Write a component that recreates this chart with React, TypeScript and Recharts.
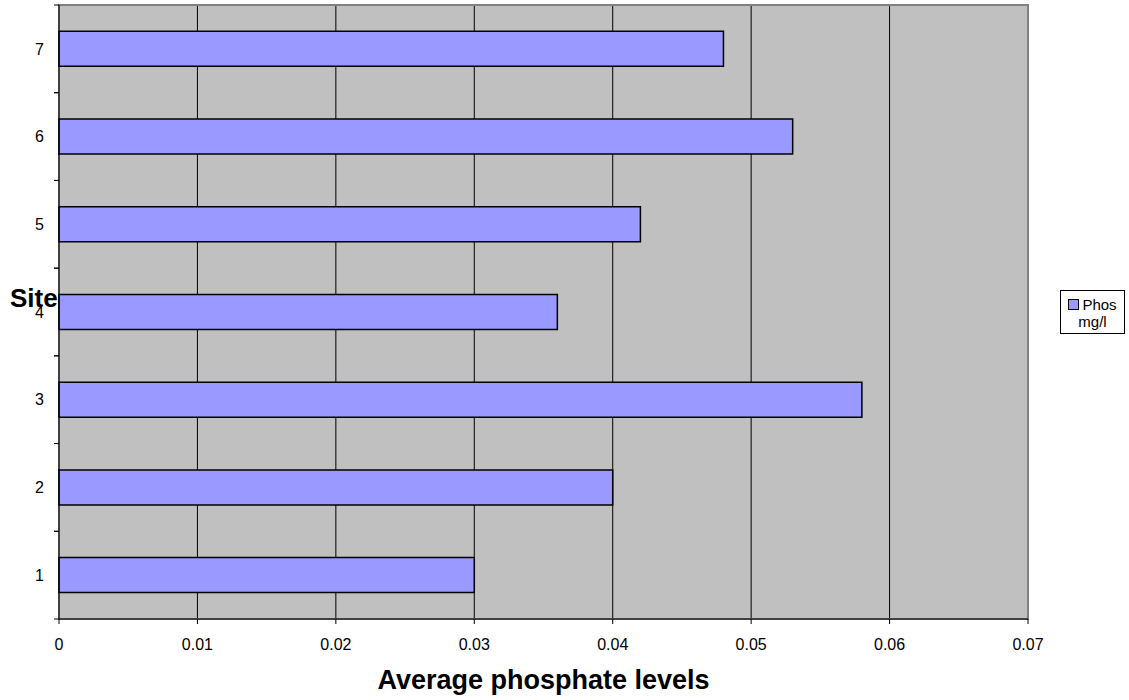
import { Bar, BarChart, CartesianGrid, Legend, ReferenceArea, XAxis, YAxis } from 'recharts'

const sites = ['1', '2', '3', '4', '5', '6', '7']
const phosMgL = [0.03, 0.04, 0.058, 0.036, 0.042, 0.053, 0.048]
const xTicks = [0, 0.01, 0.02, 0.03, 0.04, 0.05, 0.06, 0.07]

const seriesName = 'Phos mg/l'
const barColor = '#9999FF'
const font = '"Liberation Sans", Arial, sans-serif'

const W = 1129
const H = 700
const TOP = 5
const AXIS_W = 59
const X_AXIS_H = 81
const RIGHT = 101
const BAND = (H - TOP - X_AXIS_H) / sites.length

const data = sites.map((site, i) => ({ site, phos: phosMgL[i] }))

// category labels sit mid-band, tick marks go on the band edges
function SiteTick({ y, payload }: any) {
  return (
    <g>
      <line x1={AXIS_W - 5} x2={AXIS_W} y1={y - BAND / 2} y2={y - BAND / 2} stroke="#000" />
      <line x1={AXIS_W - 5} x2={AXIS_W} y1={y + BAND / 2} y2={y + BAND / 2} stroke="#000" />
      <text x={AXIS_W - 15} y={y} dy="0.355em" textAnchor="end" fontSize={16} fontFamily={font} fill="#000">
        {payload.value}
      </text>
    </g>
  )
}

function LegendBox({ payload }: any) {
  const item = payload && payload[0]
  return (
    <div
      style={{
        width: 65,
        height: 44,
        border: '1px solid #000',
        background: '#fff',
        fontFamily: font,
        fontSize: 15,
        lineHeight: '17px',
        textAlign: 'center',
        paddingTop: 5,
        boxSizing: 'border-box',
        color: '#000',
      }}
    >
      <span
        style={{
          display: 'inline-block',
          width: 9,
          height: 9,
          background: item ? item.color : barColor,
          border: '1px solid #000',
          marginRight: 3,
        }}
      />
      {item ? item.value : seriesName}
    </div>
  )
}

export default function App() {
  return (
    <div style={{ position: 'absolute', left: 0, top: 0, background: '#fff' }}>
      <BarChart
        width={W}
        height={H}
        data={data}
        layout="vertical"
        barCategoryGap="30%"
        margin={{ top: TOP, right: RIGHT, bottom: 0, left: 0 }}
      >
        <CartesianGrid horizontal={false} stroke="#000" fill="#C0C0C0" fillOpacity={1} />
        <XAxis
          type="number"
          domain={[0, 0.07]}
          ticks={xTicks}
          height={X_AXIS_H}
          tickSize={5}
          tickMargin={15}
          axisLine={{ stroke: '#000' }}
          tickLine={{ stroke: '#000' }}
          tick={{ fontSize: 16, fill: '#000', fontFamily: font }}
          tickFormatter={(v: number) => String(v)}
          label={({ viewBox }: any) => (
            <text
              x={viewBox.x + viewBox.width / 2}
              y={viewBox.y + 70}
              textAnchor="middle"
              fontSize={27}
              fontWeight="bold"
              fontFamily={font}
              fill="#000"
            >
              Average phosphate levels
            </text>
          )}
        />
        <YAxis
          type="category"
          dataKey="site"
          reversed
          width={AXIS_W}
          tickLine={false}
          axisLine={{ stroke: '#000' }}
          tick={<SiteTick />}
          label={({ viewBox }: any) => (
            <text
              x={viewBox.x + 10}
              y={viewBox.y + viewBox.height / 2 - 5}
              fontSize={26}
              fontWeight="bold"
              fontFamily={font}
              fill="#000"
            >
              Site
            </text>
          )}
        />
        <Bar
          dataKey="phos"
          name={seriesName}
          fill={barColor}
          stroke="#000"
          strokeWidth={1.5}
          isAnimationActive={false}
        />
        <ReferenceArea x1={0} x2={0.07} fill="none" stroke="#808080" strokeWidth={2} />
        <Legend
          layout="horizontal"
          align="center"
          verticalAlign="middle"
          content={<LegendBox />}
          wrapperStyle={{ left: 1060, top: 290, width: 65 }}
        />
      </BarChart>
    </div>
  )
}
